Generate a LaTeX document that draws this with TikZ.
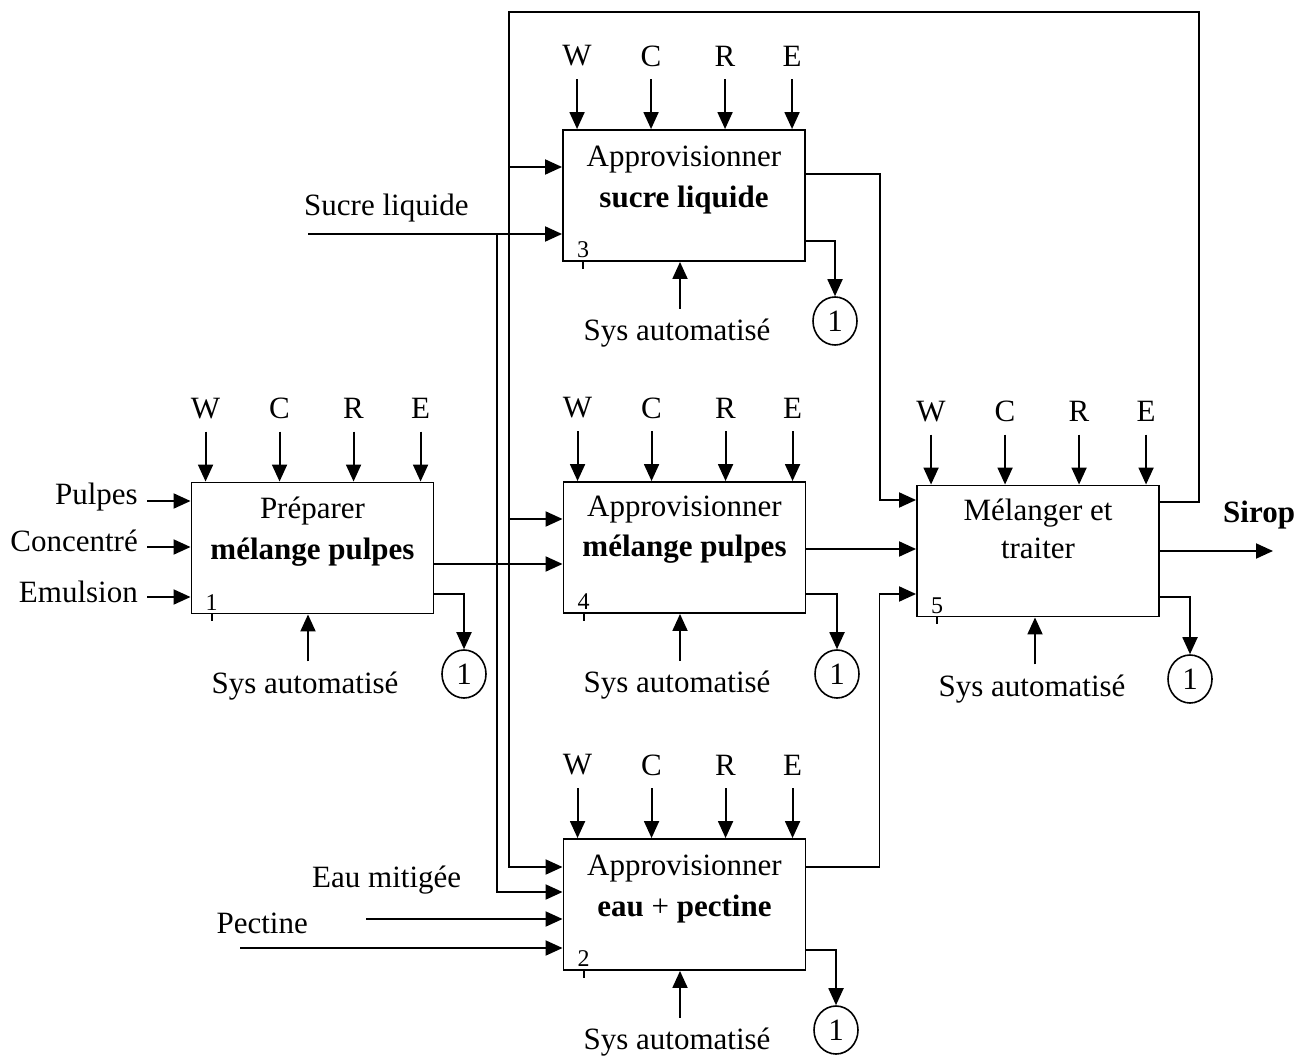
\documentclass[tikz,border=0pt]{standalone}
\usepackage{fontspec}
\setmainfont{Liberation Serif}
\usetikzlibrary{arrows.meta,shapes.geometric}
\begin{document}
\begin{tikzpicture}[x=1pt,y=-1pt,
  box/.style={draw, line width=1.9pt, minimum width=242pt, minimum height=131pt, inner sep=0pt},
  lab/.style={font=\fontsize{31}{37}\selectfont, inner sep=0pt},
  blab/.style={font=\fontsize{31}{37}\selectfont\bfseries, inner sep=0pt},
  num/.style={font=\fontsize{24}{28}\selectfont, inner sep=0pt},
  ln/.style={line width=1.9pt},
  arr/.style={line width=1.9pt, -{Triangle[length=17pt,width=15pt]}},
  circ/.style={draw, ellipse, line width=1.6pt, minimum width=44pt, minimum height=48pt,
               inner sep=0pt, font=\fontsize{31}{37}\selectfont}]
\useasboundingbox (0,0) rectangle (1311,1056);

% activity boxes
\node[box] (b1) at (312.5,548) {};
\node[box] (b3) at (684,195.5) {};
\node[box] (b4) at (684.5,547.5) {};
\node[box] (b2) at (684.5,904.5) {};
\node[box] (b5) at (1038,551) {};

% box titles
\node[lab,anchor=base]  (b1t1) at ([yshift=-37]b1.north) {Préparer};
\node[blab,anchor=base] (b1t2) at ([yshift=-78]b1.north) {mélange pulpes};
\node[lab,anchor=base]  (b3t1) at ([yshift=-37]b3.north) {Approvisionner};
\node[blab,anchor=base] (b3t2) at ([yshift=-78]b3.north) {sucre liquide};
\node[lab,anchor=base]  (b4t1) at ([yshift=-35]b4.north) {Approvisionner};
\node[blab,anchor=base] (b4t2) at ([yshift=-75]b4.north) {mélange pulpes};
\node[lab,anchor=base]  (b2t1) at ([yshift=-37]b2.north) {Approvisionner};
\node[lab,anchor=base]  (b2t2) at ([yshift=-78]b2.north) {\textbf{eau} + \textbf{pectine}};
\node[lab,anchor=base]  (b5t1) at ([yshift=-36]b5.north) {Mélanger et};
\node[lab,anchor=base]  (b5t2) at ([yshift=-74]b5.north) {traiter};

% box numbers and ticks
\foreach \b/\n in {b1/1,b3/3,b4/4,b2/2,b5/5}{
  \node[num,anchor=base] (\b n) at ([shift={(21,-4)}]\b.south west) {\n};
  \draw[ln] ([xshift=21]\b.south west) -- ++(0,7);
}

% controls W C R E
\foreach \b in {b1,b2,b3,b4,b5}{
  \foreach \l/\dx in {W/15,C/89,R/163,E/230}{
    \node[lab] (\b\l) at ([shift={(\dx,-73)}]\b.north west) {\l};
    \draw[arr] ([shift={(\dx,-50)}]\b.north west) -- ([xshift=\dx]\b.north west);
  }
}

% mechanisms
\foreach \b/\dx in {b1/-4.5,b3/-4,b4/-4.5,b2/-4.5,b5/-3}{
  \node[lab,anchor=base] (\b s) at ([shift={(\dx-3,79)}]\b.south) {Sys automatisé};
  \draw[arr] ([shift={(\dx,47)}]\b.south) -- ([xshift=\dx]\b.south);
}

% scrap outputs
\node[circ] (c1) at (464,674) {1};
\node[circ] (c3) at (835,321) {1};
\node[circ] (c4) at (837,674) {1};
\node[circ] (c5) at (1190,679) {1};
\node[circ] (c2) at (836,1030) {1};
\draw[arr] (b1.east |- 0,594) -| (c1.north);
\draw[arr] (b3.east |- 0,241) -| (c3.north);
\draw[arr] (b4.east |- 0,594) -| (c4.north);
\draw[arr] (b5.east |- 0,597) -| (c5.north);
\draw[arr] (b2.east |- 0,950) -| (c2.north);

% inputs to box 1
\node[lab,anchor=base east] (pul) at (138,504) {Pulpes};
\node[lab,anchor=base east] (con) at (138,551) {Concentré};
\node[lab,anchor=base east] (emu) at (138,602) {Emulsion};
\coordinate (pula) at (147,501);
\coordinate (cona) at (147,547);
\coordinate (emua) at (147,597);
\draw[arr] (pula) -- (pula -| b1.west);
\draw[arr] (cona) -- (cona -| b1.west);
\draw[arr] (emua) -- (emua -| b1.west);

% sucre liquide and its branch
\node[lab,anchor=base west] (suc) at (304,216) {Sucre liquide};
\coordinate (suca) at (308,234);
\coordinate (jA) at (497,234);
\draw[arr] (suca) -- (suca -| b3.west);
\draw[arr] (jA) |- (b2.west |- 0,892);

% feedback loop from box 5
\coordinate (fbR) at (1199,12);
\coordinate (fbL) at (509,12);
\draw[arr] (b5.east |- 0,502) -| (fbR) -- (fbL) |- (b2.west |- 0,867);
\draw[arr] (fbL |- 0,167) -- (b3.west |- 0,167);
\draw[arr] (fbL |- 0,519) -- (b4.west |- 0,519);

% inputs to box 2
\node[lab,anchor=base west] (eau) at (312,887) {Eau mitigée};
\node[lab,anchor=base east] (pec) at (308,933) {Pectine};
\coordinate (eaua) at (366,919);
\coordinate (peca) at (240,948);
\draw[arr] (eaua) -- (eaua -| b2.west);
\draw[arr] (peca) -- (peca -| b2.west);

% main flows
\draw[arr] (b1.east |- 0,564) -- (b4.west |- 0,564);
\draw[arr] (b4.east |- 0,549) -- (b5.west |- 0,549);
\draw[arr] (b3.east |- 0,174) -- ++(74,0) |- (b5.west |- 0,500);
\draw[arr] (b2.east |- 0,867) -- ++(73,0) |- (b5.west |- 0,594);

% final output
\node[blab,anchor=base west] (sir) at (1223,522) {Sirop};
\coordinate (siro) at (1273,551);
\draw[arr] (b5.east |- siro) -- (siro);
\end{tikzpicture}
\end{document}
